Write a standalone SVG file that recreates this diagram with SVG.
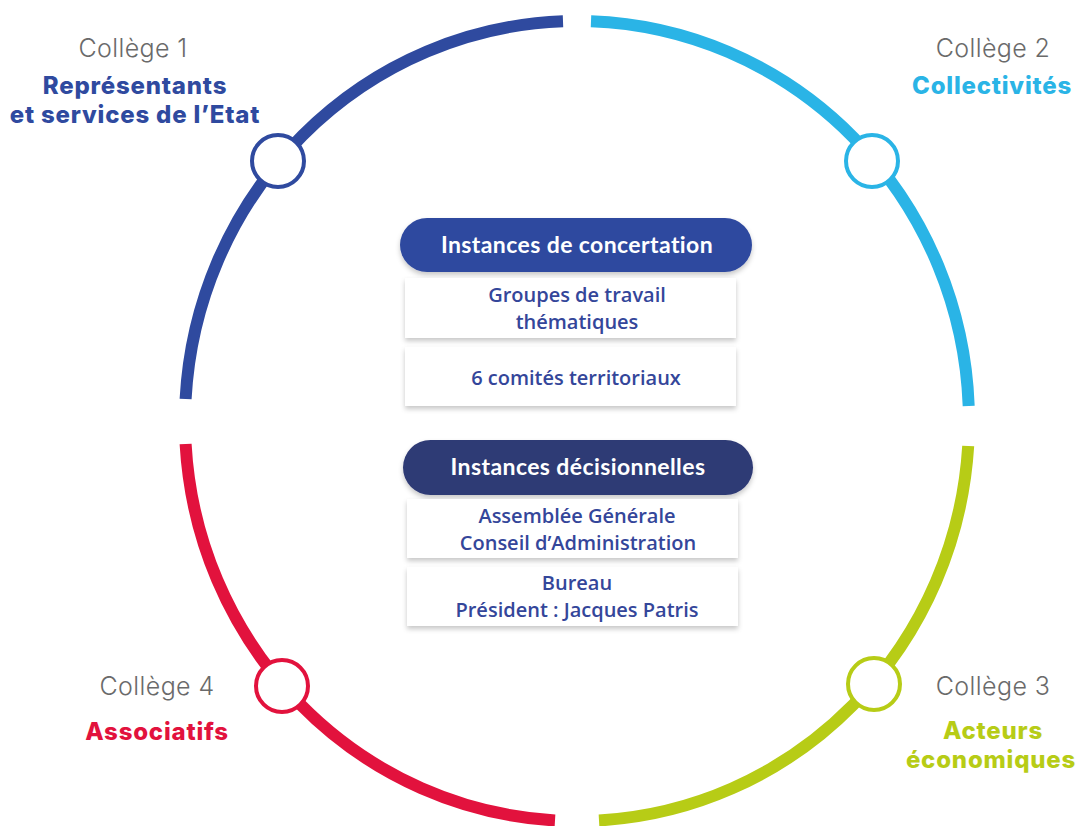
<svg xmlns="http://www.w3.org/2000/svg" width="1082" height="826" viewBox="0 0 1082 826">
<style>
.arc{fill:none;stroke-width:12;stroke-linecap:butt}
.dot{fill:#fff;stroke-width:4}
.col{font-family:Inter,"Liberation Sans",sans-serif;font-weight:300;font-size:25px;letter-spacing:0.4px;fill:#6a6a6a;text-anchor:middle}
.lab{font-family:Inter,"Liberation Sans",sans-serif;font-weight:800;font-size:24px;letter-spacing:0.8px;text-anchor:middle}
.pill-t{font-family:Lato,"Liberation Sans",sans-serif;font-weight:700;font-size:23px;letter-spacing:0.4px;fill:#fff;text-anchor:middle}
.card{fill:#fff}
.card-t{font-family:"Open Sans","Liberation Sans",sans-serif;font-weight:600;font-size:20px;fill:#34469a;text-anchor:middle}
</style>
<defs>
<filter id="sh" x="-10%" y="-20%" width="120%" height="150%">
<feDropShadow dx="0" dy="3" stdDeviation="2.5" flood-color="#000" flood-opacity="0.22"/>
</filter>
</defs>
<rect width="1082" height="826" fill="#fff"/>
<g id="ring">
<path class="arc" stroke="#2f4a9f" d="M563 21.3 A392 400 0 0 0 185.6 399"/>
<path class="arc" stroke="#2ab4e6" d="M591 21.3 A392 400 0 0 1 968.7 406"/>
<path class="arc" stroke="#b7cc16" d="M968.2 446 A392 400 0 0 1 599 820.4"/>
<path class="arc" stroke="#e2123d" d="M555 820.4 A392 400 0 0 1 185.6 444"/>
</g>
<g id="college1">
<circle class="dot" stroke="#2f4a9f" cx="278" cy="161" r="26"/>
<text class="col" x="133" y="57">Collège 1</text>
<text class="lab" x="135" y="94" fill="#2f4a9f">Représentants</text>
<text class="lab" x="135" y="123" fill="#2f4a9f">et services de l’Etat</text>
</g>
<g id="college2">
<circle class="dot" stroke="#2ab4e6" cx="872" cy="161" r="26"/>
<text class="col" x="993" y="57">Collège 2</text>
<text class="lab" x="992" y="94" fill="#2ab4e6">Collectivités</text>
</g>
<g id="college3">
<circle class="dot" stroke="#b7cc16" cx="874" cy="684" r="26"/>
<text class="col" x="993" y="695">Collège 3</text>
<text class="lab" x="993" y="739" fill="#b7cc16">Acteurs</text>
<text class="lab" x="991" y="768" fill="#b7cc16">économiques</text>
</g>
<g id="college4">
<circle class="dot" stroke="#e2123d" cx="282" cy="686" r="26"/>
<text class="col" x="157" y="695">Collège 4</text>
<text class="lab" x="157" y="740" fill="#e2123d">Associatifs</text>
</g>
<g id="concertation">
<rect x="400" y="218" width="352" height="54" rx="27" fill="#2f4a9f" filter="url(#sh)"/>
<text class="pill-t" x="577" y="253">Instances de concertation</text>
</g>
<g id="groupes">
<rect class="card" x="405" y="278" width="331" height="60" filter="url(#sh)"/>
<text class="card-t" x="577" y="302">Groupes de travail</text>
<text class="card-t" x="577" y="329">thématiques</text>
</g>
<g id="comites">
<rect class="card" x="405" y="347" width="331" height="59" filter="url(#sh)"/>
<text class="card-t" x="576" y="385">6 comités territoriaux</text>
</g>
<g id="decisionnelles">
<rect x="403" y="440" width="350" height="55" rx="27.5" fill="#2f3a74" filter="url(#sh)"/>
<text class="pill-t" x="578" y="475">Instances décisionnelles</text>
</g>
<g id="assemblee">
<rect class="card" x="407" y="499" width="331" height="59" filter="url(#sh)"/>
<text class="card-t" x="577" y="523">Assemblée Générale</text>
<text class="card-t" x="578" y="550">Conseil d’Administration</text>
</g>
<g id="bureau">
<rect class="card" x="407" y="567" width="331" height="59" filter="url(#sh)"/>
<text class="card-t" x="577" y="590">Bureau</text>
<text class="card-t" x="577" y="617">Président : Jacques Patris</text>
</g>
</svg>
